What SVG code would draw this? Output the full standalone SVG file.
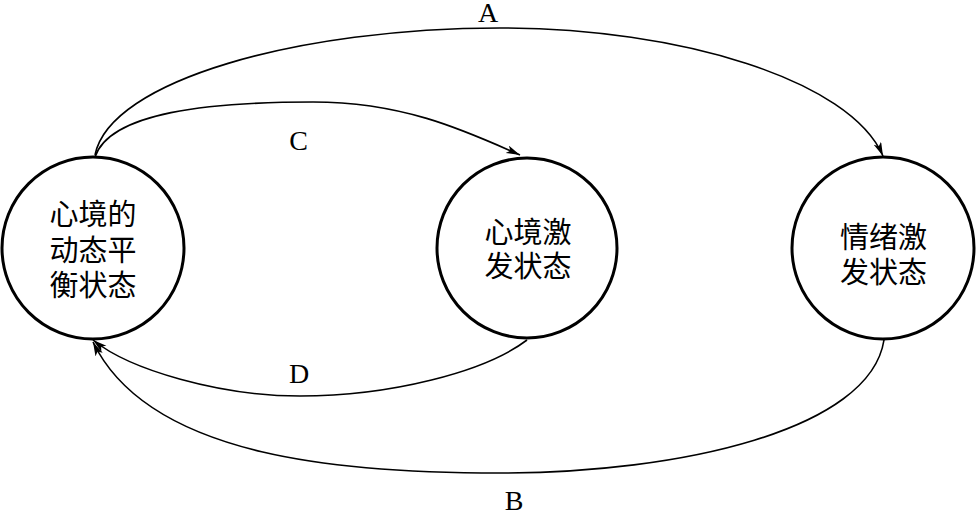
<svg xmlns="http://www.w3.org/2000/svg" width="976" height="512" viewBox="0 0 976 512">
<style>
.node{fill:#fff;stroke:#000;stroke-width:3}
.cn{font-family:"Noto Sans CJK SC","Noto Sans CJK JP",sans-serif;font-size:29px;fill:#000;text-anchor:middle}
.lbl{font-family:"Liberation Serif","Times New Roman",serif;font-size:28px;fill:#000;text-anchor:middle}
.edge{fill:none;stroke:#000;stroke-width:1.6;marker-end:url(#arr)}
</style>
<defs>
<marker id="arr" markerUnits="userSpaceOnUse" markerWidth="16" markerHeight="10" refX="14" refY="4" orient="auto">
<path d="M0,0 L14,4 L0,8 L3.5,4 Z" fill="#000"/>
</marker>
</defs>
<g id="connectors">
<path id="edge-A" class="edge" d="M95,155 C110,80 300,28 500,28 C680,28 850,80 883,156"/>
<path id="edge-C" class="edge" d="M95,157 C110,112 210,102 313,102 C400,102 460,128 520,155"/>
<path id="edge-D" class="edge" d="M527,340 C485,372 390,396 300,396 C220,396 130,370 93,340"/>
<path id="edge-B" class="edge" d="M884,340 C870,430 680,473 500,473 C350,473 150,460 93,342"/>
</g>
<g id="node-balance">
<circle class="node" cx="93" cy="248" r="91"/>
<text class="cn" x="93" y="225">心境的</text>
<text class="cn" x="93" y="260.5">动态平</text>
<text class="cn" x="93" y="296">衡状态</text>
</g>
<g id="node-mood">
<circle class="node" cx="527" cy="248" r="90"/>
<text class="cn" x="528" y="243">心境激</text>
<text class="cn" x="528" y="277">发状态</text>
</g>
<g id="node-emotion">
<circle class="node" cx="883" cy="248" r="91"/>
<text class="cn" x="883.5" y="248">情绪激</text>
<text class="cn" x="883.5" y="283">发状态</text>
</g>
<g id="labels">
<text class="lbl" x="488" y="22">A</text>
<text class="lbl" x="298.5" y="150">C</text>
<text class="lbl" x="299" y="383">D</text>
<text class="lbl" x="514" y="510">B</text>
</g>
</svg>
